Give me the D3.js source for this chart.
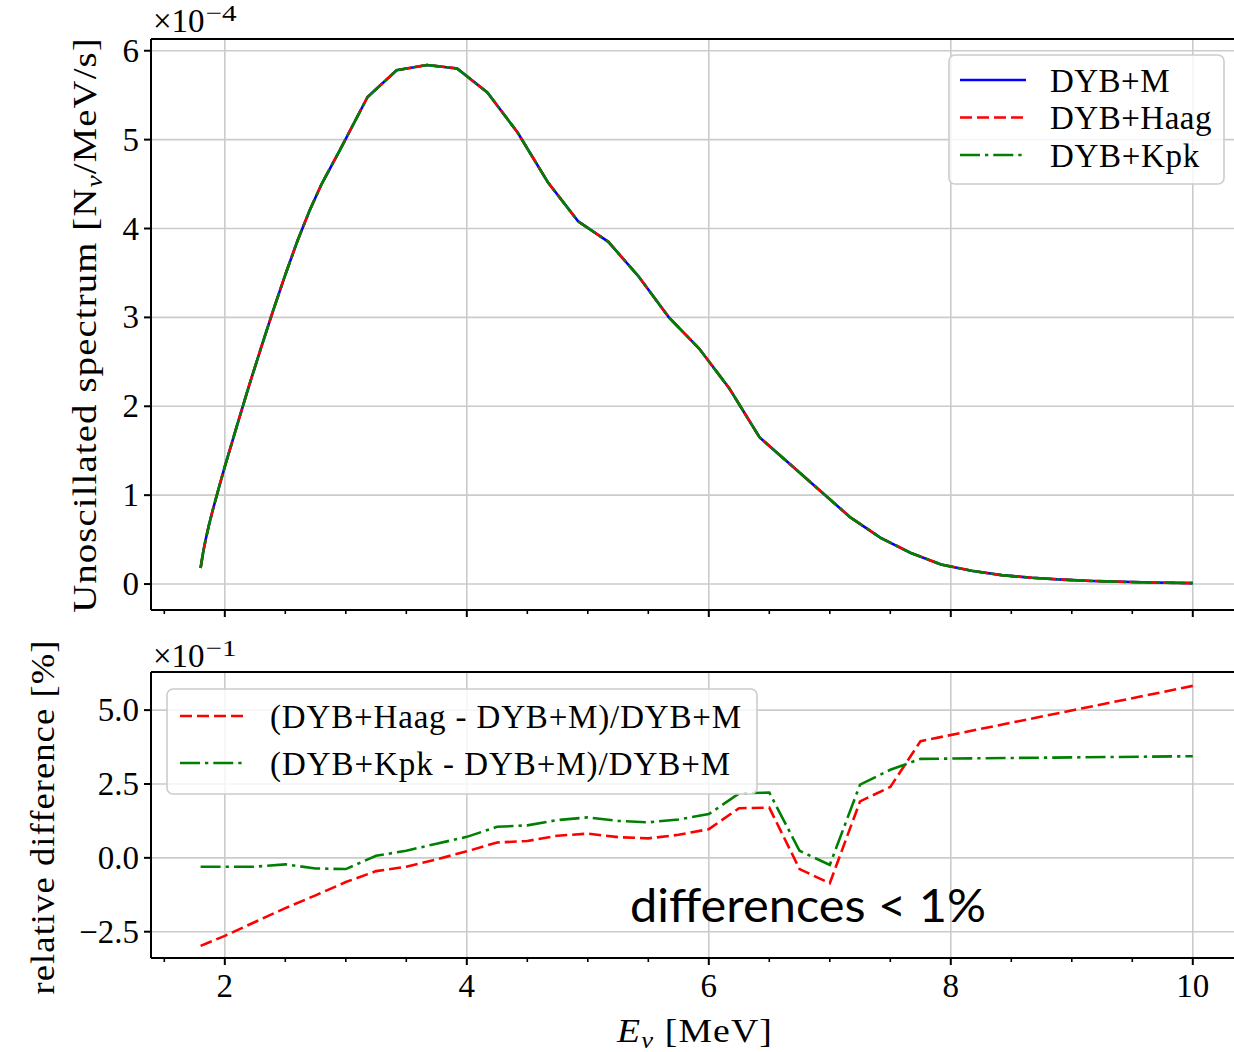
<!DOCTYPE html>
<html><head><meta charset="utf-8">
<script src="https://cdn.jsdelivr.net/npm/d3@7"></script>
<style>
body{margin:0;background:#fff;}
svg{display:block;}
text{font-family:"Liberation Serif","Times New Roman",serif;fill:#000;}
</style></head>
<body><svg id="chart" width="1234" height="1052"></svg>
<script>
// ---------- data ----------
const energyTop = [1.8,1.82,1.84,1.87,1.9,1.95,2.0,2.1,2.2,2.3,2.4,2.5,2.6,2.7,2.8,2.95,3.18,3.42,3.67,3.92,4.17,4.42,4.67,4.92,5.17,5.42,5.67,5.92,6.17,6.42,6.67,6.92,7.17,7.42,7.67,7.92,8.17,8.42,8.67,8.92,9.17,9.42,9.67,10.0];
const spectrumM    = [0.18,0.35,0.49,0.67,0.83,1.08,1.32,1.78,2.23,2.66,3.08,3.48,3.86,4.2,4.5,4.88,5.48,5.78,5.84,5.80,5.53,5.08,4.52,4.08,3.85,3.46,3.0,2.65,2.2,1.65,1.35,1.05,0.75,0.52,0.35,0.22,0.15,0.10,0.07,0.05,0.035,0.025,0.017,0.01];
const spectrumHaag = [0.18,0.35,0.49,0.67,0.83,1.08,1.32,1.78,2.23,2.66,3.08,3.48,3.86,4.2,4.5,4.88,5.48,5.78,5.84,5.80,5.53,5.08,4.52,4.08,3.85,3.46,3.0,2.65,2.2,1.65,1.35,1.05,0.75,0.52,0.35,0.22,0.15,0.10,0.07,0.05,0.035,0.025,0.017,0.01];
const spectrumKpk  = [0.18,0.35,0.49,0.67,0.83,1.08,1.32,1.78,2.23,2.66,3.08,3.48,3.86,4.2,4.5,4.88,5.48,5.78,5.84,5.80,5.53,5.08,4.52,4.08,3.85,3.46,3.0,2.65,2.2,1.65,1.35,1.05,0.75,0.52,0.35,0.22,0.15,0.10,0.07,0.05,0.035,0.025,0.017,0.01];

const energyDiff = [1.8,2.0,2.25,2.5,2.75,3.0,3.25,3.5,3.75,4.0,4.25,4.5,4.75,5.0,5.25,5.5,5.75,6.0,6.25,6.5,6.75,7.0,7.25,7.5,7.75,10.0];
const diffHaag = [-2.98,-2.64,-2.17,-1.7,-1.27,-0.82,-0.45,-0.3,-0.05,0.22,0.52,0.57,0.75,0.82,0.7,0.66,0.78,0.97,1.68,1.7,-0.38,-0.86,1.91,2.4,3.95,5.82];
const diffKpk  = [-0.3,-0.3,-0.3,-0.22,-0.36,-0.38,0.07,0.24,0.48,0.71,1.05,1.1,1.28,1.37,1.25,1.2,1.3,1.48,2.18,2.21,0.24,-0.24,2.48,2.98,3.35,3.44];

const xMajorTicks = [2,4,6,8,10];
const xMinorTicks = [1.5,2.5,3,3.5,4.5,5,5.5,6.5,7,7.5,8.5,9,9.5,10.5];
const yTopTicks = [0,1,2,3,4,5,6];
const yTopLabels = ["0","1","2","3","4","5","6"];
const yBotTicks = [-2.5,0,2.5,5.0];
const yBotLabels = ["\u22122.5","0.0","2.5","5.0"];
const topLegend = ["DYB+M","DYB+Haag","DYB+Kpk"];
const botLegend = ["(DYB+Haag - DYB+M)/DYB+M","(DYB+Kpk - DYB+M)/DYB+M"];

// ---------- layout ----------
const svg = d3.select("#chart");
const L = 151, R = 1242.4;
const topP = {t:39, b:610};
const botP = {t:672, b:958};
const x = d3.scaleLinear().domain([1.39,10.41]).range([L,R]);
const yTop = d3.scaleLinear().domain([-0.292,6.132]).range([topP.b,topP.t]);
const yBot = d3.scaleLinear().domain([-3.39,6.29]).range([botP.b,botP.t]);

const gridCol = "#cbcbcb";
const FS = 33;

function fit(sel, target){
  const n = sel.node();
  const len = n.getComputedTextLength();
  const chars = n.textContent.length;
  sel.attr("letter-spacing", ((target-len)/chars).toFixed(2));
}
// light spacing plus horizontal stretch to reach the target width
function fitStretch(sel, baseTransform, target, spacing){
  sel.attr("letter-spacing", spacing);
  const len = sel.node().getComputedTextLength();
  const k = target/len;
  sel.attr("transform", baseTransform + " scale(" + k.toFixed(4) + ",1)");
}

function panel(y, p, yTicks){
  const g = svg.append("g");
  g.selectAll(".gx").data(xMajorTicks).enter().append("line")
    .attr("x1",d=>x(d)).attr("x2",d=>x(d)).attr("y1",p.t).attr("y2",p.b)
    .attr("stroke",gridCol).attr("stroke-width",1.6);
  g.selectAll(".gy").data(yTicks).enter().append("line")
    .attr("x1",L).attr("x2",R).attr("y1",d=>y(d)).attr("y2",d=>y(d))
    .attr("stroke",gridCol).attr("stroke-width",1.6);
  return g;
}
function frame(y, p, yTicks, yLabels, showX){
  const g = svg.append("g");
  g.append("line").attr("x1",L).attr("x2",R).attr("y1",p.t).attr("y2",p.t).attr("stroke","#000").attr("stroke-width",2);
  g.append("line").attr("x1",L).attr("x2",R).attr("y1",p.b).attr("y2",p.b).attr("stroke","#000").attr("stroke-width",2);
  g.append("line").attr("x1",L).attr("x2",L).attr("y1",p.t).attr("y2",p.b).attr("stroke","#000").attr("stroke-width",2);
  g.selectAll(".xM").data(xMajorTicks).enter().append("line")
    .attr("x1",d=>x(d)).attr("x2",d=>x(d)).attr("y1",p.b).attr("y2",p.b+7)
    .attr("stroke","#000").attr("stroke-width",2);
  g.selectAll(".xm").data(xMinorTicks).enter().append("line")
    .attr("x1",d=>x(d)).attr("x2",d=>x(d)).attr("y1",p.b).attr("y2",p.b+4)
    .attr("stroke","#000").attr("stroke-width",1.6);
  g.selectAll(".yM").data(yTicks).enter().append("line")
    .attr("x1",L-7).attr("x2",L).attr("y1",d=>y(d)).attr("y2",d=>y(d))
    .attr("stroke","#000").attr("stroke-width",2);
  g.selectAll(".yl").data(yTicks).enter().append("text")
    .attr("x",L-12).attr("y",d=>y(d)+11).attr("text-anchor","end")
    .attr("font-size",FS).text((d,i)=>yLabels[i]);
  if(showX){
    g.selectAll(".xl").data(xMajorTicks).enter().append("text")
      .attr("x",d=>x(d)).attr("y",997).attr("text-anchor","middle")
      .attr("font-size",FS).text(d=>String(d));
  }
}

panel(yTop, topP, yTopTicks);
panel(yBot, botP, yBotTicks);

// ---------- top curves ----------
const lineTop = ys => d3.line().x((d,i)=>x(energyTop[i])).y(d=>yTop(d))(ys);
svg.append("path").attr("d",lineTop(spectrumM)).attr("fill","none").attr("stroke","#0000ff").attr("stroke-width",2.6);
svg.append("path").attr("d",lineTop(spectrumHaag)).attr("fill","none").attr("stroke","#ff0000").attr("stroke-width",2.6).attr("stroke-dasharray","12,5");
svg.append("path").attr("d",lineTop(spectrumKpk)).attr("fill","none").attr("stroke","#008000").attr("stroke-width",2.6).attr("stroke-dasharray","20,5,3.3,5");

// ---------- bottom curves ----------
const lineBot = ys => d3.line().x((d,i)=>x(energyDiff[i])).y(d=>yBot(d))(ys);
svg.append("path").attr("d",lineBot(diffHaag)).attr("fill","none").attr("stroke","#ff0000").attr("stroke-width",2.6).attr("stroke-dasharray","12,5");
svg.append("path").attr("d",lineBot(diffKpk)).attr("fill","none").attr("stroke","#008000").attr("stroke-width",2.6).attr("stroke-dasharray","20,5,3.3,5");

frame(yTop, topP, yTopTicks, yTopLabels, false);
frame(yBot, botP, yBotTicks, yBotLabels, true);

// ---------- offset texts ----------
function offsetText(yb, exp){
  const t = svg.append("text").attr("x",153).attr("y",yb).attr("font-size",FS);
  t.append("tspan").text("\u00d710");
  t.append("tspan").attr("dy",-11).attr("font-size",24).attr("dx",1).attr("textLength",31).attr("lengthAdjust","spacingAndGlyphs").text(exp);
}
offsetText(31.5,"\u22124");
offsetText(666.5,"\u22121");

// ---------- axis labels ----------
const yl1 = svg.append("text").attr("text-anchor","middle").attr("font-size",34);
yl1.append("tspan").text("Unoscillated spectrum [N");
yl1.append("tspan").attr("dy",6).attr("font-size",24).attr("font-style","italic").text("\u03bd");
yl1.append("tspan").attr("dy",-6).text("/MeV/s]");
fitStretch(yl1, "translate(96,325) rotate(-90)", 576, 1);

const yl2 = svg.append("text").attr("text-anchor","middle").attr("font-size",34).text("relative difference [%]");
fitStretch(yl2, "translate(54,817) rotate(-90)", 355, 1);

const xl = svg.append("text").attr("text-anchor","middle").attr("font-size",34);
xl.append("tspan").attr("font-style","italic").text("E");
xl.append("tspan").attr("dy",6).attr("font-size",24).attr("font-style","italic").text("\u03bd");
xl.append("tspan").attr("dy",-6).text(" [MeV]");
fitStretch(xl, "translate(695,1042)", 156, 1);

// ---------- legends ----------
const lgTop = svg.append("g");
lgTop.append("rect").attr("x",949).attr("y",55).attr("width",275).attr("height",129).attr("rx",6)
  .attr("fill","#fff").attr("fill-opacity",0.8).attr("stroke","#cccccc").attr("stroke-width",1.6);
const topStyles = [{c:"#0000ff",d:null},{c:"#ff0000",d:"12,5"},{c:"#008000",d:"20,5,3.3,5"}];
const topRowY = [80,117.5,155];
const topTextW = [120,162,150];
topLegend.forEach((name,i)=>{
  const l = lgTop.append("line").attr("x1",960).attr("x2",1026).attr("y1",topRowY[i]).attr("y2",topRowY[i])
    .attr("stroke",topStyles[i].c).attr("stroke-width",2.6);
  if(topStyles[i].d) l.attr("stroke-dasharray",topStyles[i].d);
  const t = lgTop.append("text").attr("x",1050).attr("y",topRowY[i]+11.5).attr("font-size",FS).text(name);
  fit(t, topTextW[i]);
});

const lgBot = svg.append("g");
lgBot.append("rect").attr("x",167).attr("y",689).attr("width",590).attr("height",105).attr("rx",6)
  .attr("fill","#fff").attr("fill-opacity",0.8).attr("stroke","#cccccc").attr("stroke-width",1.6);
const botRowY = [716,763];
const botTextW = [472,461];
botLegend.forEach((name,i)=>{
  lgBot.append("line").attr("x1",180).attr("x2",243).attr("y1",botRowY[i]).attr("y2",botRowY[i])
    .attr("stroke",topStyles[i+1].c).attr("stroke-width",2.6).attr("stroke-dasharray",topStyles[i+1].d);
  const t = lgBot.append("text").attr("x",270).attr("y",botRowY[i]+11.5).attr("font-size",FS).text(name);
  fit(t, botTextW[i]);
});

// ---------- annotation ----------
svg.append("text").attr("x",630).attr("y",922).attr("font-size",46)
  .style("font-family","Lato, 'Open Sans', sans-serif").attr("textLength",356).attr("lengthAdjust","spacingAndGlyphs")
  .text("differences < 1%");
</script></body></html>
